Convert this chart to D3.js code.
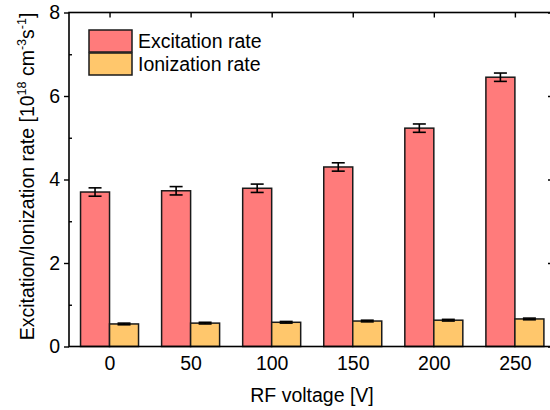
<!DOCTYPE html>
<html>
<head>
<meta charset="utf-8">
<script src="https://cdn.jsdelivr.net/npm/d3@7"></script>
<style>
  html, body { margin: 0; padding: 0; background: #fff; }
  svg { display: block; font-family: "Liberation Sans", Arial, sans-serif; }
</style>
</head>
<body>
<svg id="chart" width="550" height="410"></svg>
<script>
// RF voltage settings (V)
const voltages = [0, 50, 100, 150, 200, 250];
// Rates in 10^18 cm^-3 s^-1
const excitation = [3.70, 3.73, 3.79, 4.30, 5.23, 6.45];
const excitationErr = [0.10, 0.10, 0.10, 0.10, 0.10, 0.10];
const ionization = [0.54, 0.56, 0.58, 0.61, 0.63, 0.66];
const ionizationErr = [0.02, 0.02, 0.02, 0.02, 0.02, 0.02];
const seriesNames = ["Excitation rate", "Ionization rate"];
const yTicks = [0, 2, 4, 6, 8];
const yMinorTicks = [1, 3, 5, 7];

const colors = ["#FF7B7B", "#FFC76C"];
const edge = "#1a1a1a";

const svg = d3.select("#chart");
const plotL = 69, plotR = 553, plotT = 12.5, plotB = 346.5;
const fs = 19.5;

const x = d3.scaleLinear().domain([-25, 273.5]).range([plotL, plotR]);
const y = d3.scaleLinear().domain([0, 8]).range([plotB, plotT]);
const barW = 29;

const series = [
  { name: seriesNames[0], vals: excitation, errs: excitationErr, color: colors[0], off: -1 },
  { name: seriesNames[1], vals: ionization, errs: ionizationErr, color: colors[1], off: 0 }
];

// bars
series.forEach(s => {
  const g = svg.append("g");
  g.selectAll("rect").data(voltages).join("rect")
    .attr("x", (d) => x(d) + s.off * barW)
    .attr("y", (d, i) => y(s.vals[i]))
    .attr("width", barW)
    .attr("height", (d, i) => y(0) - y(s.vals[i]))
    .attr("fill", s.color)
    .attr("stroke", edge)
    .attr("stroke-width", 1.5);
});

// error bars
series.forEach(s => {
  const g = svg.append("g").attr("stroke", "#000").attr("stroke-width", 1.6).attr("fill", "none");
  voltages.forEach((d, i) => {
    const cx = x(d) + s.off * barW + barW / 2;
    const y1 = y(s.vals[i] + s.errs[i]);
    const y0 = y(s.vals[i] - s.errs[i]);
    const cap = 6.5;
    g.append("line").attr("x1", cx).attr("x2", cx).attr("y1", y1).attr("y2", y0);
    g.append("line").attr("x1", cx - cap).attr("x2", cx + cap).attr("y1", y1).attr("y2", y1);
    g.append("line").attr("x1", cx - cap).attr("x2", cx + cap).attr("y1", y0).attr("y2", y0);
  });
});

// frame
const frame = svg.append("g").attr("stroke", "#000").attr("stroke-width", 1.6).attr("fill", "none");
frame.append("rect").attr("x", plotL).attr("y", plotT).attr("width", plotR - plotL).attr("height", plotB - plotT);

// left axis: major ticks outward, minor ticks inward
const yAxisL = d3.axisLeft(y).tickValues(yTicks).tickSize(5).tickPadding(4).tickFormat(d3.format("d"));
const gL = svg.append("g").attr("transform", `translate(${plotL},0)`).call(yAxisL);
gL.select(".domain").remove();
gL.selectAll(".tick line").attr("stroke-width", 1.4);
gL.selectAll(".tick text").attr("font-size", fs).attr("fill", "#000")
  .attr("font-family", "Liberation Sans, Arial, sans-serif");
const gLm = svg.append("g").attr("transform", `translate(${plotL},0)`)
  .call(d3.axisRight(y).tickValues(yMinorTicks).tickSize(3).tickFormat(""));
gLm.select(".domain").remove();
gLm.selectAll(".tick line").attr("stroke-width", 1.4);

// right axis mirror
const gR = svg.append("g").attr("transform", `translate(${plotR},0)`)
  .call(d3.axisLeft(y).tickValues(yTicks).tickSize(5).tickFormat(""));
gR.select(".domain").remove();
gR.selectAll(".tick line").attr("stroke-width", 1.4);

// top axis ticks at each category, pointing inward
const gT = svg.append("g").attr("transform", `translate(0,${plotT})`)
  .call(d3.axisBottom(x).tickValues(voltages).tickSize(5).tickFormat(""));
gT.select(".domain").remove();
gT.selectAll(".tick line").attr("stroke-width", 1.4);

// bottom axis labels
const gB = svg.append("g").attr("transform", `translate(0,${plotB})`)
  .call(d3.axisBottom(x).tickValues(voltages).tickSize(0).tickPadding(10).tickFormat(d3.format("d")));
gB.select(".domain").remove();
gB.selectAll(".tick text").attr("font-size", fs).attr("fill", "#000")
  .attr("font-family", "Liberation Sans, Arial, sans-serif");

// axis titles
svg.append("text")
  .attr("x", (plotL + plotR) / 2 + 1).attr("y", 402)
  .attr("text-anchor", "middle").attr("font-size", fs)
  .text("RF voltage [V]");

const yt = svg.append("text")
  .attr("transform", `translate(34,${(plotT + plotB) / 2 - 3}) rotate(-90)`)
  .attr("text-anchor", "middle").attr("font-size", fs);
yt.append("tspan").text("Excitation/Ionization rate [10");
yt.append("tspan").attr("font-size", 12.5).attr("dy", -8).text("18");
yt.append("tspan").attr("dy", 8).text(" cm");
yt.append("tspan").attr("font-size", 12.5).attr("dy", -8).text("-3");
yt.append("tspan").attr("dy", 8).text("s");
yt.append("tspan").attr("font-size", 12.5).attr("dy", -8).text("-1");
yt.append("tspan").attr("dy", 8).text("]");

// legend
const leg = svg.append("g").attr("transform", "translate(89,30)");
series.forEach((s, i) => {
  const row = leg.append("g").attr("transform", `translate(0,${i * 23})`);
  row.append("rect").attr("width", 43).attr("height", 22)
    .attr("fill", s.color).attr("stroke", edge).attr("stroke-width", 1.5);
  row.append("text").attr("x", 49).attr("y", 17.5).attr("font-size", fs).text(s.name);
});
</script>
</body>
</html>
